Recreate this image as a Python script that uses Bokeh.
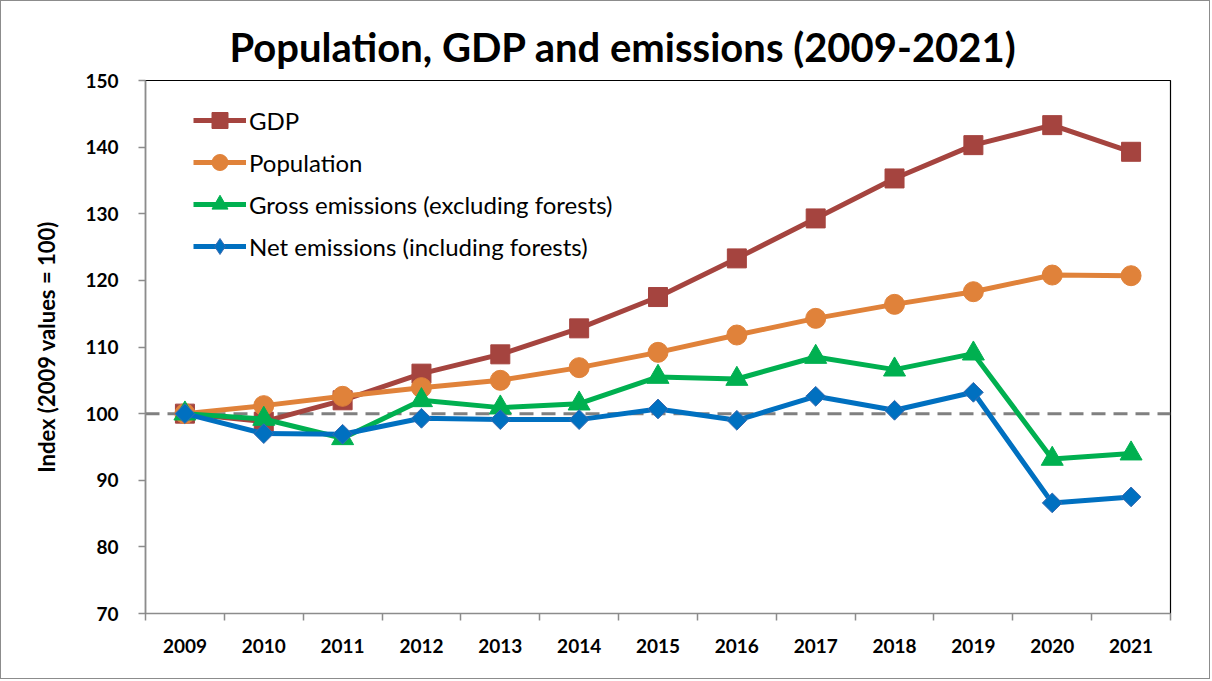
from bokeh.plotting import figure
from bokeh.models import Range1d, FixedTicker, Span, Title, LegendItem, Legend
from bokeh.embed import file_html
from bokeh.resources import INLINE
import math

years = ["2009", "2010", "2011", "2012", "2013", "2014", "2015",
         "2016", "2017", "2018", "2019", "2020", "2021"]
gdp = [100.0, 98.8, 102.0, 106.0, 108.9, 112.8, 117.5, 123.3, 129.3, 135.3, 140.3, 143.3, 139.3]
population = [100.0, 101.2, 102.6, 103.9, 105.0, 106.9, 109.2, 111.8, 114.3, 116.4, 118.3, 120.8, 120.7]
gross = [100.0, 99.2, 96.3, 102.0, 100.9, 101.5, 105.5, 105.2, 108.5, 106.6, 109.0, 93.2, 94.0]
net = [100.0, 97.0, 96.9, 99.3, 99.1, 99.1, 100.7, 99.0, 102.6, 100.5, 103.2, 86.6, 87.5]
y_ticks = [70, 80, 90, 100, 110, 120, 130, 140, 150]

FONT = "Lato"
x = [i + 0.5 for i in range(len(years))]

p = figure(width=1210, height=679, output_backend="svg", toolbar_location=None,
           x_range=Range1d(0, len(years)), y_range=Range1d(70, 150),
           min_border_left=144, min_border_right=41, min_border_top=79, min_border_bottom=67)
p.styles = {"border": "1px solid #8c8c8c"}

p.title = Title(text="Population, GDP and emissions (2009-2021)", align="left",
                text_font=FONT, text_font_size="40px", text_font_style="bold",
                text_color="black", offset=84, standoff=19)

p.xgrid.visible = False
p.ygrid.visible = False
p.outline_line_color = "black"
p.outline_line_width = 1.2

axis_gray = "#8c8c8c"
p.xaxis.ticker = FixedTicker(ticks=x, minor_ticks=list(range(len(years) + 1)))
p.xaxis.major_label_overrides = {xi: yr for xi, yr in zip(x, years)}
p.xaxis.major_tick_out = 0
p.xaxis.major_tick_in = 0
p.xaxis.minor_tick_out = 7
p.xaxis.minor_tick_in = 0
p.xaxis.minor_tick_line_color = axis_gray
p.xaxis.minor_tick_line_width = 1.5
p.xaxis.axis_line_color = axis_gray
p.xaxis.axis_line_width = 1.5
p.xaxis.major_label_standoff = 18
p.xaxis.major_label_text_font = FONT
p.xaxis.major_label_text_font_size = "19px"
p.xaxis.major_label_text_font_style = "bold"
p.xaxis.major_label_text_color = "black"

p.yaxis.ticker = FixedTicker(ticks=y_ticks)
p.yaxis.major_tick_out = 7
p.yaxis.major_tick_in = 0
p.yaxis.minor_tick_line_color = None
p.yaxis.major_tick_line_color = axis_gray
p.yaxis.major_tick_line_width = 1.5
p.yaxis.axis_line_color = axis_gray
p.yaxis.axis_line_width = 1.5
p.yaxis.major_label_standoff = 20
p.yaxis.major_label_text_font = FONT
p.yaxis.major_label_text_font_size = "19px"
p.yaxis.major_label_text_font_style = "bold"
p.yaxis.major_label_text_color = "black"
p.yaxis.axis_label = "Index (2009 values = 100)"
p.yaxis.axis_label_text_font = FONT
p.yaxis.axis_label_text_font_size = "22px"
p.yaxis.axis_label_text_font_style = "bold"
p.yaxis.axis_label_text_color = "black"
p.yaxis.axis_label_standoff = 22

ref = Span(location=100, dimension="width", line_color="#808080", line_width=3,
           line_dash="14 8", level="underlay")
p.add_layout(ref)

series = [
    ("GDP", gdp, "#A5443F", "#A5443F", "square", 19, 0, "square"),
    ("Population", population, "#E0823A", "#E0823A", "circle", 20, 0, "circle"),
    ("Gross emissions (excluding forests)", gross, "#00B050", "#00B050", "triangle", 22, 0, "triangle"),
    ("Net emissions (including forests)", net, "#0070C0", "#3A6BB0", "square", 14, math.pi / 4, "diamond"),
]
items = []
for label, vals, col, edge, marker, size, ang, leg_marker in series:
    ln = p.line(x, vals, line_color=col, line_width=5)
    sc = p.scatter(x, vals, marker=marker, size=size, angle=ang, fill_color=col,
                   line_color=edge, line_width=1)
    rends = [ln, sc]
    if leg_marker != marker:
        hidden = p.scatter(x, vals, marker=leg_marker, size=size, fill_color=col,
                           line_color=edge, line_width=1, visible=False)
        rends = [ln, hidden]
    items.append(LegendItem(label=label, renderers=rends))

lg = Legend(items=items)
p.add_layout(lg, "center")
lg.location = (48, 347)
lg.border_line_alpha = 0
lg.background_fill_alpha = 0
lg.padding = 0
lg.margin = 0
lg.glyph_width = 53
lg.glyph_height = 40
lg.spacing = 2
lg.label_standoff = 3
lg.label_text_font = FONT
lg.label_text_font_size = "24px"
lg.label_text_color = "black"

open("out.html", "w").write(file_html(p, INLINE))
